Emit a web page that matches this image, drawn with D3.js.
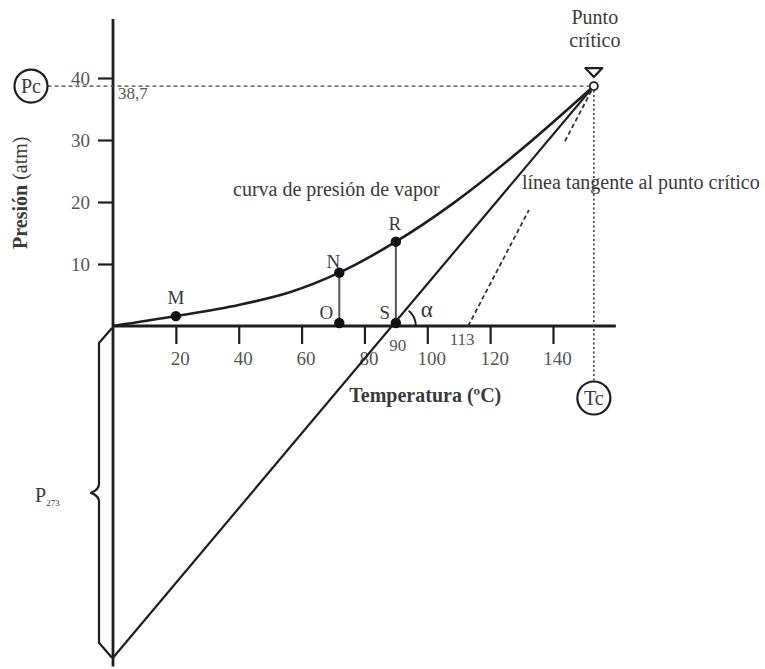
<!DOCTYPE html>
<html>
<head>
<meta charset="utf-8">
<script src="https://cdn.jsdelivr.net/npm/d3@7"></script>
<style>
  html, body { margin: 0; padding: 0; background: #fff; }
  svg { display: block; font-family: "Liberation Serif", "Times New Roman", serif; }
</style>
</head>
<body>
<svg id="chart" width="765" height="669"></svg>
<script>
// Vapour-pressure curve: temperature (°C) and pressure (atm)
const curveT = [0, 20, 40, 56, 72, 90, 108, 130, 153];
const curveP = [0, 1.6, 3.4, 5.4, 8.6, 13.6, 19.7, 28.5, 38.7];

// Axis ticks
const xTicks = [20, 40, 60, 80, 100, 120, 140];
const yTicks = [10, 20, 30, 40];

// Labelled points
const pointNames = ["M", "N", "O", "R", "S"];
const pointT = [20, 72, 72, 90, 90];
const pointP = [1.6, 8.6, 0, 13.6, 0];

// Critical point
const critT = 153;
const critP = 38.7;

// Tangent line at the critical point meets P = 0 at this temperature
const tangentT0 = 113;
// Pressure range of the tangent line left blank for its caption
const tangentGap = [18.7, 29.8];
// Straight line from the critical point through S, extrapolated to T = 0
const sTemp = 90;
const p273 = -53.5;

const svg = d3.select("#chart");
const ink = "#1e1e1e";
const textInk = "#3a3a3a";
const tickInk = "#555";
const serif = "Liberation Serif, Times New Roman, serif";

const x = d3.scaleLinear().domain([0, 140]).range([113, 553]);
const y = d3.scaleLinear().domain([0, 40]).range([326, 78]);

// ---- axes ----
const xAxis = d3.axisBottom(x).tickValues(xTicks).tickSize(18).tickPadding(8);
const gx = svg.append("g").attr("transform", `translate(0,${y(0)})`).call(xAxis)
  .attr("font-family", serif);
gx.select(".domain").remove();
gx.selectAll(".tick line").attr("stroke", ink).attr("stroke-width", 2.2);
gx.selectAll(".tick text")
  .attr("fill", tickInk).attr("font-size", 19).attr("dx", 4);

const yAxis = d3.axisLeft(y).tickValues(yTicks).tickSize(15).tickPadding(8);
const gy = svg.append("g").attr("transform", `translate(${x(0)},0)`).call(yAxis)
  .attr("font-family", serif);
gy.select(".domain").remove();
gy.selectAll(".tick line").attr("stroke", ink).attr("stroke-width", 2.2);
gy.selectAll(".tick text")
  .attr("fill", tickInk).attr("font-size", 19);

// axis lines
svg.append("line")
  .attr("x1", x(0) - 1).attr("x2", x(160))
  .attr("y1", y(0)).attr("y2", y(0))
  .attr("stroke", ink).attr("stroke-width", 2.8);
svg.append("line")
  .attr("x1", x(0)).attr("x2", x(0))
  .attr("y1", y(49.5)).attr("y2", y(p273 - 1.4))
  .attr("stroke", ink).attr("stroke-width", 2.8);

// axis titles
const yTitle = svg.append("text")
  .attr("transform", `translate(27,${y(21.5)}) rotate(-90)`)
  .attr("text-anchor", "middle").attr("font-size", 20).attr("fill", textInk);
yTitle.append("tspan").attr("font-weight", "bold").text("Presión");
yTitle.append("tspan").text(" (atm)");

svg.append("text")
  .attr("x", (x(80) + x(120)) / 2 - 2).attr("y", 402)
  .attr("text-anchor", "middle").attr("font-size", 20)
  .attr("font-weight", "bold").attr("fill", textInk)
  .text("Temperatura (ºC)");

// ---- reference lines to Pc and Tc ----
const pcX = 31, tcY = 398, badgeR = 16.5;
svg.append("line")
  .attr("x1", pcX + badgeR).attr("x2", x(critT))
  .attr("y1", y(critP)).attr("y2", y(critP))
  .attr("stroke", "#444").attr("stroke-width", 1.3)
  .attr("stroke-dasharray", "4,3");
svg.append("line")
  .attr("x1", x(critT)).attr("x2", x(critT))
  .attr("y1", y(critP)).attr("y2", tcY - badgeR - 1)
  .attr("stroke", "#444").attr("stroke-width", 1.6)
  .attr("stroke-dasharray", "2,2.5");

function badge(bcx, bcy, label) {
  svg.append("circle").attr("cx", bcx).attr("cy", bcy).attr("r", badgeR)
    .attr("fill", "#fff").attr("stroke", ink).attr("stroke-width", 2.2);
  svg.append("text").attr("x", bcx).attr("y", bcy + 6.5)
    .attr("text-anchor", "middle").attr("font-size", 20).attr("fill", textInk)
    .text(label);
}
badge(pcX, y(critP), "Pc");
badge(x(critT), tcY, "Tc");

svg.append("text").attr("x", x(0) + 5).attr("y", y(critP) + 13)
  .attr("font-size", 17).attr("fill", tickInk).text("38,7");

// ---- straight line from critical point through S down to T = 0 ----
svg.append("line")
  .attr("x1", x(critT)).attr("y1", y(critP))
  .attr("x2", x(0)).attr("y2", y(p273))
  .attr("stroke", ink).attr("stroke-width", 2.2);

// ---- tangent line at the critical point (dashed, broken for its caption) ----
const tanT = p => tangentT0 + (critT - tangentT0) * p / critP;
[[0, tangentGap[0]], [tangentGap[1], critP]].forEach(([p0, p1]) => {
  svg.append("line")
    .attr("x1", x(tanT(p0))).attr("y1", y(p0))
    .attr("x2", x(tanT(p1))).attr("y2", y(p1))
    .attr("stroke", "#333").attr("stroke-width", 1.8)
    .attr("stroke-dasharray", "4.5,3");
});

// ---- vapour-pressure curve ----
const curveData = curveT.map((t, i) => [t, curveP[i]]);
svg.append("path")
  .datum(curveData)
  .attr("d", d3.line().x(d => x(d[0])).y(d => y(d[1])).curve(d3.curveCatmullRom.alpha(0.5)))
  .attr("fill", "none").attr("stroke", ink).attr("stroke-width", 2.6);

// ---- verticals N–O and R–S ----
[[72, 8.6], [90, 13.6]].forEach(([t, p]) => {
  svg.append("line")
    .attr("x1", x(t)).attr("x2", x(t)).attr("y1", y(p)).attr("y2", y(0))
    .attr("stroke", "#555").attr("stroke-width", 2);
});

// ---- angle alpha at S ----
const sx = x(sTemp), sy = y(0);
const theta = Math.atan2(y(0) - y(critP), x(critT) - x(critT * (-p273) / (critP - p273)));
const arcR = 20;
const arcPath = d3.path();
arcPath.moveTo(sx + arcR * Math.cos(-theta), sy + arcR * Math.sin(-theta));
arcPath.arc(sx, sy, arcR, -theta, 0);
svg.append("path").attr("d", arcPath.toString())
  .attr("fill", "none").attr("stroke", ink).attr("stroke-width", 2);
svg.append("text").attr("x", sx + 31).attr("y", sy - 9)
  .attr("text-anchor", "middle").attr("font-size", 23).attr("fill", textInk)
  .text("α");

// ---- points and their letters ----
const labelDx = [0, -6, -13, -1, -11];
const labelDy = [-12, -5, -7, -12, -7];
pointNames.forEach((name, i) => {
  svg.append("circle")
    .attr("cx", x(pointT[i])).attr("cy", y(pointP[i]) - (pointP[i] === 0 ? 3 : 0))
    .attr("r", 5.2).attr("fill", "#111");
  svg.append("text")
    .attr("x", x(pointT[i]) + labelDx[i]).attr("y", y(pointP[i]) + labelDy[i])
    .attr("text-anchor", "middle").attr("font-size", 19).attr("fill", textInk)
    .text(name);
});

// value labels on the temperature axis
svg.append("text").attr("x", x(sTemp) + 2).attr("y", y(0) + 25)
  .attr("text-anchor", "middle").attr("font-size", 17).attr("fill", tickInk)
  .text("90");
svg.append("text").attr("x", x(tangentT0) - 6).attr("y", y(0) + 19)
  .attr("text-anchor", "middle").attr("font-size", 17).attr("fill", tickInk)
  .text(tangentT0);

// ---- critical point marker ----
const kx = x(critT), ky = y(critP);
svg.append("path")
  .attr("d", `M${kx - 8.5},${ky - 18} L${kx + 8.5},${ky - 18} L${kx},${ky - 9} Z`)
  .attr("fill", "#fff").attr("stroke", ink).attr("stroke-width", 2.2)
  .attr("stroke-linejoin", "round");
svg.append("circle").attr("cx", kx).attr("cy", ky).attr("r", 4)
  .attr("fill", "#fff").attr("stroke", ink).attr("stroke-width", 1.8);

svg.append("text").attr("x", kx + 1).attr("y", 24)
  .attr("text-anchor", "middle").attr("font-size", 20).attr("fill", textInk)
  .text("Punto");
svg.append("text").attr("x", kx + 1).attr("y", 47)
  .attr("text-anchor", "middle").attr("font-size", 20).attr("fill", textInk)
  .text("crítico");

// ---- captions ----
svg.append("text").attr("x", 233).attr("y", 196)
  .attr("font-size", 20).attr("fill", textInk)
  .text("curva de presión de vapor");
svg.append("text").attr("x", 522).attr("y", 189)
  .attr("font-size", 20).attr("fill", textInk)
  .text("línea tangente al punto crítico");

// ---- brace spanning P = 0 down to the extrapolated pressure ----
const bx = x(0) - 14, braceTop = y(0) + 2, braceBot = y(p273);
const braceMid = (braceTop + braceBot) / 2;
const brace = d3.path();
brace.moveTo(x(0) - 1, braceTop);
brace.lineTo(bx, braceTop + 15);
brace.lineTo(bx, braceMid - 9);
brace.quadraticCurveTo(bx, braceMid - 3, bx - 8, braceMid);
brace.quadraticCurveTo(bx, braceMid + 3, bx, braceMid + 9);
brace.lineTo(bx, braceBot - 15);
brace.lineTo(x(0) - 1, braceBot);
svg.append("path").attr("d", brace.toString())
  .attr("fill", "none").attr("stroke", ink).attr("stroke-width", 2.2)
  .attr("stroke-linejoin", "round");

const pLab = svg.append("text").attr("x", 35).attr("y", braceMid + 9)
  .attr("font-size", 20).attr("fill", textInk);
pLab.append("tspan").text("P");
pLab.append("tspan").attr("font-size", 9).attr("dy", 4).text("273");
</script>
</body>
</html>
